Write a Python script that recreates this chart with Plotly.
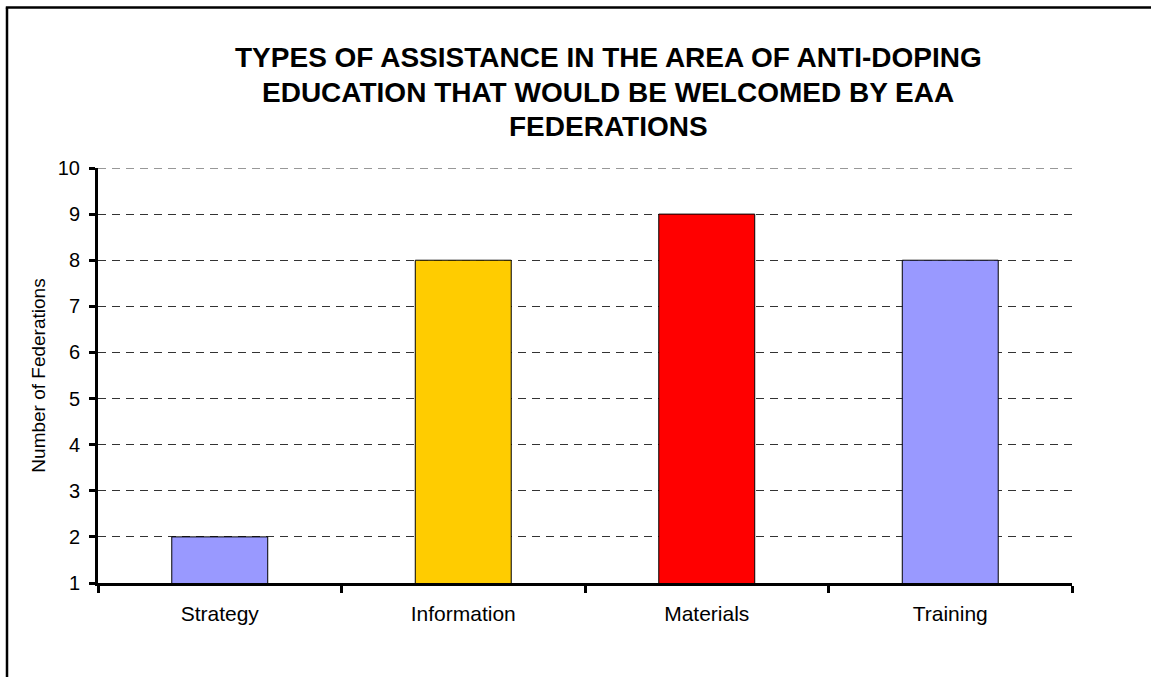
import plotly.graph_objects as go

categories = ["Strategy", "Information", "Materials", "Training"]
federations = [2, 8, 9, 8]
bar_colors = ["#9999FF", "#FFCC00", "#FF0000", "#9999FF"]
title_lines = [
    "TYPES OF ASSISTANCE IN THE AREA OF ANTI-DOPING",
    "EDUCATION THAT WOULD BE WELCOMED BY EAA",
    "FEDERATIONS",
]
y_ticks = list(range(1, 11))

W, H = 1151, 677
ML, MR, MT, MB = 98, 79, 168, 94
PW, PH = W - ML - MR, H - MT - MB


def px_x(x):
    return (x - ML) / PW


def px_y(y):
    return (H - MB - y) / PH


fig = go.Figure(
    go.Bar(
        x=categories,
        y=federations,
        marker=dict(color=bar_colors, line=dict(color="black", width=1)),
        hoverinfo="x+y",
    )
)

font = "Liberation Sans, Arial, sans-serif"
grid_style = dict(color="#333333", width=1, dash="8px,6px")

annotations = []
for i, line in enumerate(title_lines):
    annotations.append(
        dict(
            text=f"<b>{line}</b>",
            xref="paper", yref="paper",
            x=px_x(608), y=px_y(57.5 + i * 34.7),
            xanchor="center", yanchor="middle",
            showarrow=False,
            font=dict(family=font, size=28, color="black"),
        )
    )

shapes = [
    # outer frame: only the left and top edges fall inside the page
    dict(type="line", xref="paper", yref="paper",
         x0=px_x(7), y0=px_y(7.5), x1=px_x(7), y1=px_y(H),
         line=dict(color="black", width=2.5), layer="above"),
    dict(type="line", xref="paper", yref="paper",
         x0=px_x(5.8), y0=px_y(7.5), x1=px_x(W), y1=px_y(7.5),
         line=dict(color="black", width=2.5), layer="above"),
    # gridline at the top of the value range
    dict(type="line", xref="paper", yref="y",
         x0=0, x1=1, y0=y_ticks[-1], y1=y_ticks[-1],
         line=grid_style, layer="below"),
]

fig.update_layout(
    width=W, height=H,
    margin=dict(l=ML, r=MR, t=MT, b=MB, autoexpand=False),
    paper_bgcolor="white",
    plot_bgcolor="white",
    bargap=0.606,
    showlegend=False,
    font=dict(family=font, size=20, color="black"),
    annotations=annotations,
    shapes=shapes,
    xaxis=dict(
        type="category",
        showline=True, linecolor="black", linewidth=3,
        ticks="outside", tickson="boundaries", ticklen=7, tickwidth=3, tickcolor="black",
        showgrid=False,
        tickfont=dict(family=font, size=21),
        ticklabelstandoff=10,
        fixedrange=True,
    ),
    yaxis=dict(
        range=[1, 10],
        tickvals=y_ticks,
        showline=True, linecolor="black", linewidth=3,
        ticks="outside", ticklen=6, tickwidth=3, tickcolor="black",
        showgrid=True, gridcolor=grid_style["color"], gridwidth=1, griddash=grid_style["dash"],
        zeroline=False,
        tickfont=dict(family=font, size=20),
        ticklabelstandoff=5,
        title=dict(text="Number of Federations", font=dict(family=font, size=19), standoff=8),
        fixedrange=True,
    ),
)

fig.write_html("out.html")
